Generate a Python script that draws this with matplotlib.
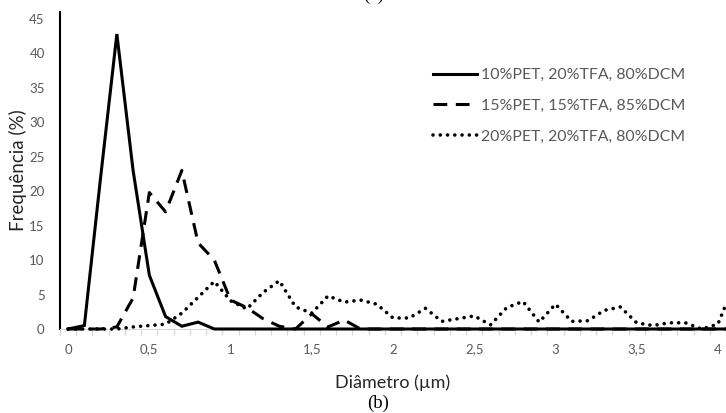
import numpy as np
import matplotlib
matplotlib.use('Agg')
import matplotlib.pyplot as plt
from matplotlib.lines import Line2D

plt.rcParams['font.family'] = ['Lato', 'DejaVu Sans']

# categories (diameter, um) and frequency (%) per solution
diametro = [0.0, 0.1, 0.2, 0.3, 0.4, 0.5, 0.6, 0.7, 0.8, 0.9,
            1.0, 1.1, 1.2, 1.3, 1.4, 1.5, 1.6, 1.7, 1.8, 1.9,
            2.0, 2.1, 2.2, 2.3, 2.4, 2.5, 2.6, 2.7, 2.8, 2.9,
            3.0, 3.1, 3.2, 3.3, 3.4, 3.5, 3.6, 3.7, 3.8, 3.9,
            4.0, 4.1]

pet10 = [0, 0.5, 22, 42.8, 23, 7.8, 1.8, 0.4, 1.0, 0,
         0, 0, 0, 0, 0, 0, 0, 0, 0, 0,
         0, 0, 0, 0, 0, 0, 0, 0, 0, 0,
         0, 0, 0, 0, 0, 0, 0, 0, 0, 0,
         0, 0]

pet15 = [0, 0, 0, 0.3, 4.5, 19.8, 17, 23, 12.5, 10,
         4.2, 3.1, 1.5, 0.4, 0, 2.2, 0.3, 1.3, 0, 0,
         0, 0, 0, 0, 0, 0, 0, 0, 0, 0,
         0, 0, 0, 0, 0, 0, 0, 0, 0, 0,
         0, 0]

pet20 = [0, 0, 0, 0, 0.3, 0.5, 0.7, 2.3, 4.6, 6.9,
         4.1, 2.9, 5.3, 7.0, 3.2, 2.3, 4.8, 3.9, 4.2, 3.6,
         1.6, 1.6, 3.0, 1.1, 1.5, 1.9, 0.6, 3.1, 4.0, 1.0,
         3.6, 1.1, 1.2, 2.7, 3.2, 0.9, 0.5, 0.9, 0.9, 0,
         0.7, 6.5]

labels = ['10%PET, 20%TFA, 80%DCM',
          '15%PET, 15%TFA, 85%DCM',
          '20%PET, 20%TFA, 80%DCM']

xticks = [0, 0.5, 1, 1.5, 2, 2.5, 3, 3.5, 4]
xticklabels = ['0', '0,5', '1', '1,5', '2', '2,5', '3', '3,5', '4']
yticks = [0, 5, 10, 15, 20, 25, 30, 35, 40, 45]

gray = '#595959'

fig = plt.figure(figsize=(7.26, 4.13), dpi=100)
ax = fig.add_axes([60 / 726, (413 - 329) / 413, 1 - 60 / 726, 317 / 413])

lw = 2.2
ax.plot(diametro, pet10, color='black', lw=lw, solid_joinstyle='miter', clip_on=False, zorder=3)
ax.plot(diametro, pet15, color='black', lw=lw, linestyle=(0, (4.5, 2.8)), clip_on=False, zorder=3)
ax.plot(diametro, pet20, color='black', lw=2.6, linestyle=(0, (0.01, 2.0)),
        dash_capstyle='round', clip_on=False, zorder=3)

ax.set_xlim(-0.05, -0.05 + 666 / 162.5)
ax.set_ylim(0, 46)

ax.set_xticks(xticks)
ax.set_xticklabels(xticklabels)
ax.set_xticks(np.arange(-0.05, 4.1, 0.1), minor=True)
ax.tick_params(axis='x', which='major', length=0, pad=10.5, labelsize=9.5, labelcolor=gray)
ax.tick_params(axis='x', which='minor', length=4, color='#d9d9d9', width=1)
ax.set_yticks(yticks)
ax.tick_params(axis='y', length=0, pad=11, labelsize=9.5, labelcolor=gray)

for s in ['top', 'right']:
    ax.spines[s].set_visible(False)
ax.spines['left'].set_color('black')
ax.spines['left'].set_linewidth(1.5)
ax.spines['bottom'].set_color('#d9d9d9')

handles = [Line2D([], [], color='black', lw=lw),
           Line2D([], [], color='black', lw=lw, linestyle=(0, (4.5, 2.8))),
           Line2D([], [], color='black', lw=2.6, linestyle=(0, (0.01, 2.0)), dash_capstyle='round')]
leg = fig.legend(handles, labels, loc='upper left', bbox_to_anchor=(433 / 726, 1 - 68 / 413),
                 frameon=False, fontsize=11.4, handlelength=2.75, handletextpad=0.3,
                 labelspacing=1.05, borderpad=0, borderaxespad=0)
for t in leg.get_texts():
    t.set_color(gray)

fig.text(18 / 726, 1 - 170 / 413, 'Frequência (%)', rotation=90, ha='center', va='center',
         fontsize=13.5, color='#262626')
fig.text(393 / 726, 1 - 383 / 413, 'Diâmetro (µm)', ha='center', va='center',
         fontsize=13, color='#262626')
fig.text(378 / 726, 1 - 403 / 413, '(b)', ha='center', va='center',
         fontsize=13.5, family='Liberation Serif', color='black')
fig.text(374 / 726, 1.0, '(a)', ha='center', va='baseline',
         fontsize=13.5, family='Liberation Serif', color='black')

fig.savefig('out.png', dpi=100)
